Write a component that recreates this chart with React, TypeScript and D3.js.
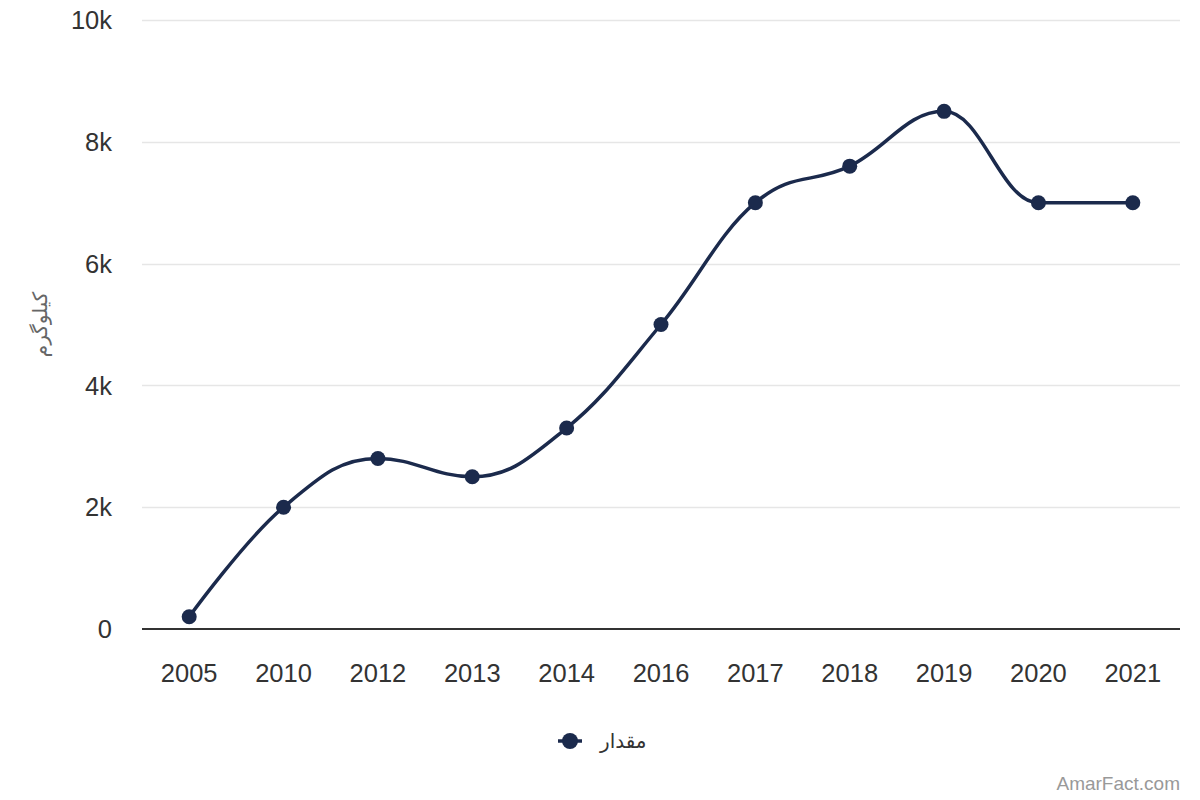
import { useMemo } from 'react';
import * as d3 from 'd3';

const years = ['2005', '2010', '2012', '2013', '2014', '2016', '2017', '2018', '2019', '2020', '2021'];
const amounts = [200, 2000, 2800, 2500, 3300, 5000, 7000, 7600, 8500, 7000, 7000];
const yTicks = [0, 2000, 4000, 6000, 8000, 10000];

const seriesName = 'مقدار';
const axisTitle = 'کیلوگرم';
const credit = 'AmarFact.com';

const WIDTH = 1200;
const HEIGHT = 800;
const LINE_COLOUR = '#1b2a4c';
const FONT = "'Liberation Sans', Arial, Helvetica, sans-serif";

// Highcharts-style spline: control points from neighbours, flattened at extremes
function splinePath(points: [number, number][]): string {
  const smoothing = 1.5;
  const denom = smoothing + 1;
  const path = d3.path();
  const conts = points.map((p, i) => {
    const prev = points[i - 1];
    const next = points[i + 1];
    if (!prev || !next) return { lx: p[0], ly: p[1], rx: p[0], ry: p[1] };
    const [x, y] = p;
    let lx = (smoothing * x + prev[0]) / denom;
    let ly = (smoothing * y + prev[1]) / denom;
    const rx = (smoothing * x + next[0]) / denom;
    let ry = (smoothing * y + next[1]) / denom;
    if (rx !== lx) {
      const correction = ((ry - ly) * (rx - x)) / (rx - lx) + y - ry;
      ly += correction;
      ry += correction;
    }
    if (ly > prev[1] && ly > y) {
      ly = Math.max(prev[1], y);
      ry = 2 * y - ly;
    } else if (ly < prev[1] && ly < y) {
      ly = Math.min(prev[1], y);
      ry = 2 * y - ly;
    }
    if (ry > next[1] && ry > y) {
      ry = Math.max(next[1], y);
      ly = 2 * y - ry;
    } else if (ry < next[1] && ry < y) {
      ry = Math.min(next[1], y);
      ly = 2 * y - ry;
    }
    return { lx, ly, rx, ry };
  });
  points.forEach((p, i) => {
    if (i === 0) {
      path.moveTo(p[0], p[1]);
      return;
    }
    const a = conts[i - 1];
    const b = conts[i];
    path.bezierCurveTo(a.rx, a.ry, b.lx, b.ly, p[0], p[1]);
  });
  return path.toString();
}

export default function App() {
  const margin = { top: 20, right: 20, bottom: 171, left: 142 };
  const x = d3
    .scaleBand<string>()
    .domain(years)
    .range([margin.left, WIDTH - margin.right]);
  const y = d3
    .scaleLinear()
    .domain([0, 10000])
    .range([HEIGHT - margin.bottom, margin.top]);

  const points = useMemo(
    () => years.map((yr, i) => [x(yr)! + x.bandwidth() / 2, y(amounts[i])] as [number, number]),
    []
  );
  const linePath = splinePath(points);
  const formatK = (v: number) => (v === 0 ? '0' : `${v / 1000}k`);

  return (
    <svg
      width={WIDTH}
      height={HEIGHT}
      viewBox={`0 0 ${WIDTH} ${HEIGHT}`}
      style={{ display: 'block', position: 'absolute', left: 0, top: 0, fontFamily: FONT }}
    >
      <rect width={WIDTH} height={HEIGHT} fill="#ffffff" />

      {yTicks.map((t) => (
        <g key={t}>
          {t !== 0 && (
            <line
              x1={margin.left}
              x2={WIDTH - margin.right}
              y1={Math.round(y(t)) + 0.5}
              y2={Math.round(y(t)) + 0.5}
              stroke="#e6e6e6"
              strokeWidth={1.5}
            />
          )}
          <text
            x={112}
            y={y(t)}
            dy="0.36em"
            textAnchor="end"
            fontSize={25.5}
            fill="#333333"
          >
            {formatK(t)}
          </text>
        </g>
      ))}

      <line
        x1={margin.left}
        x2={WIDTH - margin.right}
        y1={y(0)}
        y2={y(0)}
        stroke="#333333"
        strokeWidth={2}
      />

      {years.map((yr) => (
        <text
          key={yr}
          x={x(yr)! + x.bandwidth() / 2}
          y={682}
          textAnchor="middle"
          fontSize={25.5}
          fill="#333333"
        >
          {yr}
        </text>
      ))}

      <text
        transform={`translate(40, ${(y(0) + y(10000)) / 2}) rotate(-90)`}
        textAnchor="middle"
        dy="0.35em"
        fontSize={20}
        fill="#666666"
        fontFamily="'DejaVu Sans', 'Noto Sans', sans-serif"
      >
        {axisTitle}
      </text>

      <path d={linePath} fill="none" stroke={LINE_COLOUR} strokeWidth={3.5} strokeLinecap="round" />
      {points.map(([px, py], i) => (
        <circle key={years[i]} cx={px} cy={py} r={7.5} fill={LINE_COLOUR} />
      ))}

      <g transform="translate(570, 741)">
        <line x1={-12} x2={12} y1={0} y2={0} stroke={LINE_COLOUR} strokeWidth={3.5} />
        <circle r={8} fill={LINE_COLOUR} />
        <text
          x={600 - 570}
          y={0}
          dy="0.35em"
          fontSize={20}
          fill="#333333"
          textAnchor="start"
          fontFamily="'DejaVu Sans', 'Noto Sans', sans-serif"
        >
          {seriesName}
        </text>
      </g>

      <text x={1180} y={790} textAnchor="end" fontSize={19} fill="#999999">
        {credit}
      </text>
    </svg>
  );
}
